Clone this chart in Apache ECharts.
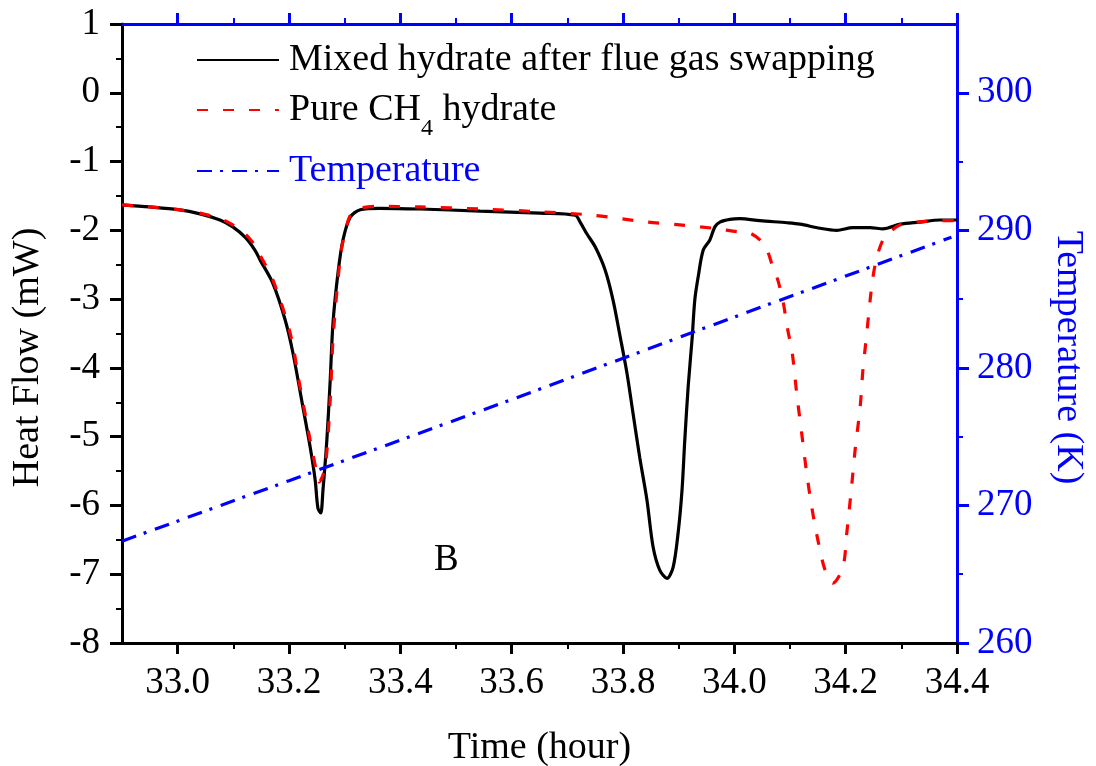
<!DOCTYPE html>
<html>
<head>
<meta charset="utf-8">
<title>Heat flow and temperature during hydrate dissociation</title>
<script src="https://cdn.jsdelivr.net/npm/echarts@6/dist/echarts.min.js"></script>
<style>
  html, body { margin: 0; padding: 0; background: #ffffff; }
  #chart { width: 1096px; height: 766px; }
</style>
</head>
<body>
<div id="chart"></div>
<script>
// Mixed hydrate after flue gas swapping: time (hour) and heat flow (mW)
const mixedTime = [32.900, 32.950, 33.001, 33.040, 33.076, 33.099, 33.121, 33.139, 33.148, 33.171,
  33.193, 33.207, 33.225, 33.238, 33.247, 33.252, 33.257, 33.261, 33.268, 33.274,
  33.279, 33.288, 33.297, 33.310, 33.328, 33.363, 33.435, 33.543, 33.651, 33.714,
  33.723, 33.735, 33.750, 33.768, 33.782, 33.795, 33.807, 33.818, 33.830, 33.843,
  33.854, 33.866, 33.879, 33.890, 33.899, 33.906, 33.911, 33.917, 33.924, 33.929,
  33.935, 33.944, 33.956, 33.965, 33.974, 33.992, 34.010, 34.046, 34.095, 34.118,
  34.154, 34.184, 34.213, 34.244, 34.267, 34.298, 34.333, 34.369, 34.400];
const mixedFlow = [-1.63, -1.66, -1.70, -1.76, -1.85, -1.95, -2.10, -2.29, -2.43, -2.77,
  -3.30, -3.78, -4.57, -5.15, -5.63, -6.04, -6.11, -5.78, -5.05, -4.18,
  -3.35, -2.62, -2.14, -1.81, -1.70, -1.68, -1.69, -1.72, -1.75, -1.78,
  -1.88, -2.05, -2.24, -2.58, -3.01, -3.55, -4.07, -4.66, -5.30, -5.92,
  -6.60, -6.94, -7.06, -6.90, -6.40, -5.78, -5.05, -4.28, -3.59, -3.01,
  -2.68, -2.29, -2.14, -1.95, -1.88, -1.84, -1.83, -1.86, -1.89, -1.91,
  -1.97, -2.00, -1.96, -1.96, -1.98, -1.91, -1.88, -1.85, -1.85];

// Pure CH4 hydrate: time (hour) and heat flow (mW)
const pureTime = [32.900, 32.950, 33.001, 33.040, 33.076, 33.099, 33.121, 33.139, 33.148, 33.171,
  33.202, 33.220, 33.238, 33.250, 33.254, 33.265, 33.274, 33.279, 33.288, 33.295,
  33.310, 33.328, 33.358, 33.435, 33.543, 33.651, 33.746, 33.843, 33.902, 33.962,
  34.005, 34.028, 34.046, 34.059, 34.069, 34.078, 34.087, 34.096, 34.104, 34.112,
  34.121, 34.130, 34.139, 34.150, 34.163, 34.177, 34.195, 34.202, 34.210, 34.217,
  34.226, 34.231, 34.238, 34.244, 34.249, 34.256, 34.267, 34.280, 34.298, 34.328,
  34.369, 34.400];
const pureFlow = [-1.63, -1.66, -1.70, -1.75, -1.83, -1.92, -2.05, -2.22, -2.36, -2.72,
  -3.49, -4.28, -5.05, -5.53, -5.66, -5.44, -4.47, -3.59, -2.72, -2.24,
  -1.78, -1.68, -1.65, -1.66, -1.69, -1.73, -1.78, -1.88, -1.92, -1.97,
  -2.02, -2.04, -2.14, -2.29, -2.53, -2.72, -3.01, -3.45, -3.78, -4.37,
  -4.95, -5.53, -6.02, -6.50, -6.94, -7.13, -6.90, -6.40, -5.78, -5.19,
  -4.57, -4.03, -3.49, -3.01, -2.68, -2.39, -2.14, -2.02, -1.92, -1.88,
  -1.86, -1.86];

// Sample temperature: time (hour) and temperature (K)
const tempTime = [32.90, 33.20, 33.60, 34.00, 34.39];
const tempK = [267.4, 271.8, 277.7, 283.7, 289.5];

// Axis ticks
const xMajorTicks = [33.0, 33.2, 33.4, 33.6, 33.8, 34.0, 34.2, 34.4];
const xMinorTicks = [33.1, 33.3, 33.5, 33.7, 33.9, 34.1, 34.3];
const tMajorTicks = [260, 270, 280, 290, 300];
const tMinorTicks = [265, 275, 285, 295];

const FONT = '"Liberation Serif", "Times New Roman", serif';
const BLACK = '#000000';
const BLUE = '#0000ff';
const RED = '#ff0000';

const pairs = (xs, ys) => xs.map((x, i) => [x, ys[i]]);

const chart = echarts.init(document.getElementById('chart'), null, { renderer: 'canvas' });

const baseX = {
  type: 'value', min: 32.9, max: 34.4, gridIndex: 0,
  splitLine: { show: false }, minorSplitLine: { show: false }
};
const baseT = {
  type: 'value', min: 260, max: 305, position: 'right',
  splitLine: { show: false }, minorSplitLine: { show: false }
};

const legendCommon = {
  orient: 'vertical', left: 196, padding: 0, itemWidth: 82, itemHeight: 14,
  selectedMode: false,
  itemStyle: { opacity: 0 },
  textStyle: { fontFamily: FONT, fontSize: 38, color: BLACK, padding: [0, 0, 0, 5] }
};

chart.setOption({
  animation: false,
  backgroundColor: '#ffffff',
  textStyle: { fontFamily: FONT },
  grid: { left: 122, right: 139, top: 24, bottom: 123, containLabel: false, outerBoundsMode: 'none' },
  legend: [
    Object.assign({}, legendCommon, { top: 41, data: ['Mixed hydrate after flue gas swapping'] }),
    Object.assign({}, legendCommon, {
      top: 79, data: ['Pure CH4 hydrate'],
      formatter: () => 'Pure CH{sub|4} hydrate',
      textStyle: Object.assign({}, legendCommon.textStyle, {
        rich: { sub: { fontFamily: FONT, fontSize: 24, lineHeight: 24, padding: [38, 0, 0, 0], color: BLACK } }
      })
    }),
    Object.assign({}, legendCommon, {
      top: 152,
      data: [{ name: 'Temperature', textStyle: { color: BLUE } }]
    })
  ],
  xAxis: [
    Object.assign({}, baseX, {
      position: 'bottom',
      name: 'Time (hour)', nameLocation: 'middle', nameGap: 86,
      nameTextStyle: { fontFamily: FONT, fontSize: 38, color: BLACK },
      axisLine: { show: true, onZero: false, lineStyle: { color: BLACK, width: 3 } },
      axisTick: { show: true, inside: false, length: 11, customValues: xMajorTicks, lineStyle: { color: BLACK, width: 3 } },
      axisLabel: { show: true, customValues: xMajorTicks, margin: 22, fontFamily: FONT, fontSize: 37, color: BLACK,
        formatter: v => v.toFixed(1) }
    }),
    Object.assign({}, baseX, {
      position: 'bottom',
      axisLine: { show: false, onZero: false },
      axisTick: { show: true, inside: false, length: 6, customValues: xMinorTicks, lineStyle: { color: BLACK, width: 2 } },
      axisLabel: { show: false }
    }),
    Object.assign({}, baseX, {
      position: 'top',
      axisLine: { show: true, onZero: false, lineStyle: { color: BLUE, width: 3 } },
      axisTick: { show: true, inside: false, length: 11, customValues: xMajorTicks, lineStyle: { color: BLUE, width: 3 } },
      axisLabel: { show: false }
    }),
    Object.assign({}, baseX, {
      position: 'top',
      axisLine: { show: false, onZero: false },
      axisTick: { show: true, inside: false, length: 6, customValues: xMinorTicks, lineStyle: { color: BLUE, width: 2 } },
      axisLabel: { show: false }
    })
  ],
  yAxis: [
    {
      type: 'value', min: -8, max: 1, interval: 1, position: 'left',
      name: 'Heat Flow (mW)', nameLocation: 'middle', nameGap: 75, nameRotate: 90,
      nameTextStyle: { fontFamily: FONT, fontSize: 38, color: BLACK, padding: [0, 48, 0, 0] },
      axisLine: { show: true, onZero: false, lineStyle: { color: BLACK, width: 3 } },
      axisTick: { show: true, inside: false, length: 12, lineStyle: { color: BLACK, width: 3 } },
      minorTick: { show: true, splitNumber: 2, length: 6, lineStyle: { color: BLACK, width: 2 } },
      axisLabel: { margin: 22, fontFamily: FONT, fontSize: 37, color: BLACK },
      splitLine: { show: false }, minorSplitLine: { show: false }
    },
    Object.assign({}, baseT, {
      name: 'Temperature (K)', nameLocation: 'middle', nameGap: 92, nameRotate: -90,
      nameTextStyle: { fontFamily: FONT, fontSize: 38, color: BLUE, padding: [0, 0, 0, 48] },
      axisLine: { show: true, onZero: false, lineStyle: { color: BLUE, width: 3 } },
      axisTick: { show: true, inside: false, length: 12, customValues: tMajorTicks, lineStyle: { color: BLUE, width: 3 } },
      axisLabel: { show: true, customValues: tMajorTicks, margin: 20, fontFamily: FONT, fontSize: 37, color: BLUE }
    }),
    Object.assign({}, baseT, {
      axisLine: { show: false, onZero: false },
      axisTick: { show: true, inside: false, length: 6, customValues: tMinorTicks, lineStyle: { color: BLUE, width: 2 } },
      axisLabel: { show: false }
    })
  ],
  graphic: [
    { type: 'text', left: 434, top: 542, z: 100,
      style: { text: 'B', fontFamily: FONT, fontSize: 37, fill: BLACK } }
  ],
  series: [
    {
      name: 'Mixed hydrate after flue gas swapping', type: 'line',
      xAxisIndex: 0, yAxisIndex: 0, data: pairs(mixedTime, mixedFlow),
      symbol: 'none', smooth: 0.3, clip: true,
      lineStyle: { color: BLACK, width: 3.2 }, itemStyle: { color: BLACK }, z: 2
    },
    {
      name: 'Pure CH4 hydrate', type: 'line',
      xAxisIndex: 0, yAxisIndex: 0, data: pairs(pureTime, pureFlow),
      symbol: 'none', smooth: 0.3, clip: true,
      lineStyle: { color: RED, width: 3.2, type: [11, 15] }, itemStyle: { color: RED }, z: 3
    },
    {
      name: 'Temperature', type: 'line',
      xAxisIndex: 0, yAxisIndex: 1, data: pairs(tempTime, tempK),
      symbol: 'none', clip: true,
      lineStyle: { color: BLUE, width: 3.2, type: [15, 8, 3, 9] }, itemStyle: { color: BLUE }, z: 4
    }
  ]
});
</script>
</body>
</html>
